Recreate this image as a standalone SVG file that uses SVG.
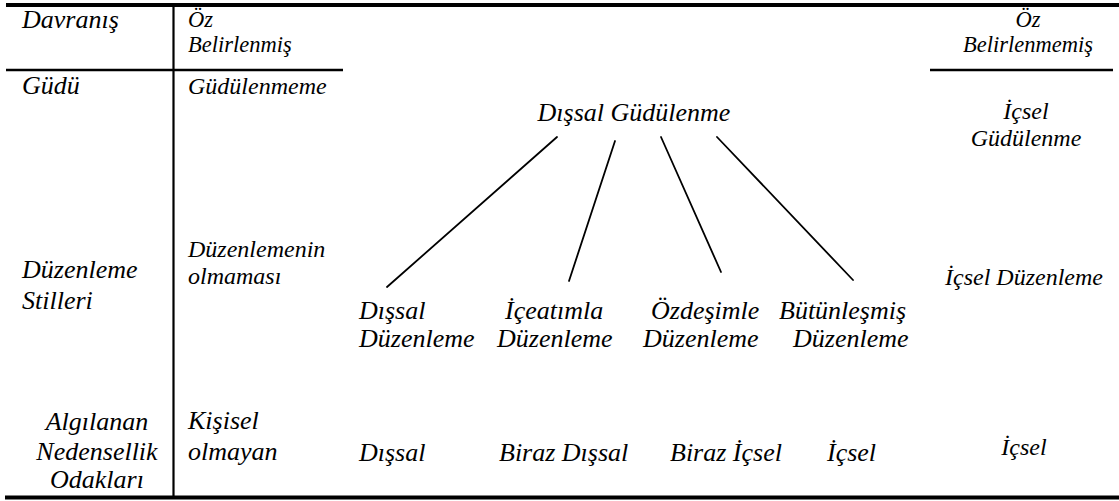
<svg xmlns="http://www.w3.org/2000/svg" width="1119" height="501" viewBox="0 0 1119 501">
<style>
text{font-family:"Liberation Serif","Times New Roman",serif;font-style:italic;fill:#000}
.a{font-size:26px}
.b{font-size:24px}
.s{font-size:22.5px}
.m{text-anchor:middle}
.rule{stroke:#000;fill:none}
</style>
<rect width="1119" height="501" fill="#fff"/>
<g id="frame">
<line class="rule" x1="6" y1="5" x2="1119" y2="5" stroke-width="4"/>
<line class="rule" x1="173.5" y1="5" x2="173.5" y2="497" stroke-width="2.2"/>
<line class="rule" x1="6" y1="70" x2="343" y2="70" stroke-width="2.4"/>
<line class="rule" x1="930" y1="70" x2="1113" y2="70" stroke-width="2.4"/>
<line class="rule" x1="5" y1="497.5" x2="1119" y2="497.5" stroke-width="4"/>
</g>
<g id="col-labels">
<text class="a" x="22" y="28">Davranış</text>
<text class="a" x="22" y="94">Güdü</text>
<text class="a" x="22" y="278">Düzenleme</text>
<text class="a" x="22" y="309">Stilleri</text>
<text class="a m" x="97" y="430">Algılanan</text>
<text class="a m" x="97" y="460">Nedensellik</text>
<text class="a m" x="97" y="488">Odakları</text>
</g>
<g id="col-self">
<text class="s" x="188" y="27">Öz</text>
<text class="s" x="188" y="52">Belirlenmiş</text>
<text class="b" x="188" y="94">Güdülenmeme</text>
<text class="b" x="188" y="257">Düzenlemenin</text>
<text class="b" x="188" y="284">olmaması</text>
<text class="a" x="188" y="429">Kişisel</text>
<text class="a" x="188" y="460">olmayan</text>
</g>
<g id="node-dissal-gudulenme">
<text class="a m" x="634" y="121">Dışsal Güdülenme</text>
</g>
<g id="node-dissal-duzenleme">
<text class="a" x="359" y="319">Dışsal</text>
<text class="a" x="359" y="347">Düzenleme</text>
</g>
<g id="node-iceatimla">
<text class="a" x="505" y="319">İçeatımla</text>
<text class="a" x="497" y="347">Düzenleme</text>
</g>
<g id="node-ozdesimle">
<text class="a" x="651" y="319">Özdeşimle</text>
<text class="a" x="643" y="347">Düzenleme</text>
</g>
<g id="node-butunlesmis">
<text class="a" x="779" y="319">Bütünleşmiş</text>
<text class="a" x="793" y="347">Düzenleme</text>
</g>
<g id="locus">
<text class="a" x="359" y="461">Dışsal</text>
<text class="a" x="499" y="461">Biraz Dışsal</text>
<text class="a" x="670" y="461">Biraz İçsel</text>
<text class="a" x="827" y="461">İçsel</text>
</g>
<g id="col-nonself">
<text class="s m" x="1028" y="27">Öz</text>
<text class="s m" x="1028" y="52">Belirlenmemiş</text>
<text class="b m" x="1026" y="119">İçsel</text>
<text class="b m" x="1026" y="146">Güdülenme</text>
<text class="b m" x="1024" y="285">İçsel Düzenleme</text>
<text class="b m" x="1024" y="455">İçsel</text>
</g>
<g id="connectors" stroke="#000" stroke-width="1.8" fill="none" stroke-linecap="round">
<line x1="557" y1="137" x2="387" y2="287"/>
<line x1="615" y1="141" x2="569" y2="281"/>
<line x1="661" y1="137" x2="721" y2="272"/>
<line x1="717" y1="137" x2="853" y2="280"/>
</g>
</svg>
